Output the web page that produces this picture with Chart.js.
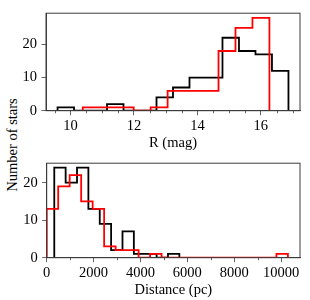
<!DOCTYPE html>
<html>
<head>
<meta charset="utf-8">
<script src="https://cdn.jsdelivr.net/npm/chart.js@4/dist/chart.umd.min.js"></script>
<style>
    body { margin: 0; background: #fff; }
    #wrap { position: relative; width: 310px; height: 300px; }
    canvas { position: absolute; left: 0; }
    #topChart { top: 0; z-index: 2; }
    #bottomChart { top: 150px; z-index: 1; }
    #yTitle {
        position: absolute;
        left: 12px;
        top: 145px;
        transform: translate(-50%, -50%) rotate(-90deg);
        font: 14.5px "Liberation Serif", serif;
        white-space: nowrap;
        color: #000;
    }
</style>
</head>
<body>
<div id="wrap">
    <canvas id="topChart" width="310" height="160"></canvas>
    <canvas id="bottomChart" width="310" height="150"></canvas>
    <div id="yTitle">Number of stars</div>
</div>
<script>
// R magnitude histograms (bin edges and counts)
const magEdgesBlack = [9.59, 10.11, 10.63, 11.15, 11.67, 12.19, 12.71, 13.23, 13.75, 14.27, 14.79, 15.31, 15.83, 16.35, 16.87];
const magCountsBlack = [1, 0, 0, 2, 0, 0, 4, 7, 10, 10, 22, 18, 17, 12];
const magEdgesRed = [10.385, 10.92, 11.455, 11.99, 12.525, 13.06, 13.595, 14.13, 14.665, 15.2, 15.735, 16.27];
const magCountsRed = [1, 1, 1, 0, 1, 6, 6, 6, 18, 25, 28];

// distance histograms
const distEdgesBlack = [323, 808, 1293, 1778, 2263, 2748, 3233, 3718, 4203, 4688, 5173, 5658];
const distCountsBlack = [24, 20, 24, 13, 9, 2, 7, 1, 1, 0, 1];
const distEdgesRed = [0, 490, 980, 1470, 1960, 2450, 2940, 3430, 3920, 4410, 4900, 5390, 5880, 6370, 6860, 7350, 7840, 8330, 8820, 9310, 9800, 10290];
const distCountsRed = [13, 19, 22, 15, 13, 3, 2, 2, 0, 1, 0, 0, 0, 0, 0, 0, 0, 0, 0, 0, 1];

const magTicks = [10, 12, 14, 16];
const magMinor = [9.5, 10.5, 11, 11.5, 12.5, 13, 13.5, 14.5, 15, 15.5, 16.5, 17];
const distTicks = [0, 2000, 4000, 6000, 8000, 10000];
const distMinor = [1000, 3000, 5000, 7000, 9000];
const countTicks = [0, 10, 20];

const FONT = { family: "'Liberation Serif', serif", size: 14.5 };
const AXIS_COLOR = "#3c3c3c";

function stepPoints(edges, counts) {
    const pts = [{ x: edges[0], y: 0 }];
    counts.forEach((c, i) => pts.push({ x: edges[i], y: c }));
    pts.push({ x: edges[edges.length - 1], y: counts[counts.length - 1] });
    pts.push({ x: edges[edges.length - 1], y: 0 });
    return pts;
}

function histDataset(edges, counts, color) {
    return {
        data: stepPoints(edges, counts),
        stepped: "before",
        borderColor: color,
        borderWidth: 1.8,
        pointRadius: 0,
        fill: false,
    };
}

const framePlugin = {
    id: "frame",
    afterDraw(chart, args, opts) {
        const { ctx, chartArea: a, scales } = chart;
        ctx.save();
        ctx.strokeStyle = AXIS_COLOR;
        ctx.lineWidth = 1;
        ctx.strokeRect(a.left, a.top, a.right - a.left, a.bottom - a.top);
        ctx.beginPath();
        (opts.minor || []).forEach((v) => {
            const x = Math.round(scales.x.getPixelForValue(v)) + 0.5;
            ctx.moveTo(x, a.bottom);
            ctx.lineTo(x, a.bottom + 2.5);
        });
        ctx.lineWidth = 0.8;
        ctx.stroke();
        ctx.restore();
    },
};

function makeChart(id, datasets, x, yMax, box) {
    const fixedTicks = (values) => (scale) => {
        scale.ticks = values.map((v) => ({ value: v }));
    };
    return new Chart(document.getElementById(id), {
        type: "line",
        data: { datasets },
        plugins: [framePlugin],
        options: {
            responsive: false,
            animation: false,
            devicePixelRatio: 1,
            layout: { padding: { left: 0, right: 10, top: box.top, bottom: 0 } },
            plugins: {
                legend: { display: false },
                tooltip: { enabled: false },
                frame: { minor: x.minor },
            },
            scales: {
                x: {
                    type: "linear",
                    min: x.min,
                    max: x.max,
                    afterBuildTicks: fixedTicks(x.ticks),
                    afterFit: (s) => { s.height = box.xHeight; },
                    grid: { drawOnChartArea: false, tickLength: 4.5, color: AXIS_COLOR, tickWidth: 0.8 },
                    border: { color: AXIS_COLOR },
                    ticks: { font: FONT, color: "#000", padding: 2.5, maxRotation: 0, callback: (v) => String(v) },
                    title: { display: true, text: x.title, font: FONT, color: "#000", padding: { top: 0, bottom: box.titlePad } },
                },
                y: {
                    type: "linear",
                    min: 0,
                    max: yMax,
                    afterBuildTicks: fixedTicks(countTicks),
                    afterFit: (s) => { s.width = box.yWidth; },
                    grid: { drawOnChartArea: false, tickLength: 4.5, color: AXIS_COLOR, tickWidth: 0.8 },
                    border: { color: AXIS_COLOR },
                    ticks: { font: FONT, color: "#000", padding: 4.5, callback: (v) => String(v) },
                },
            },
        },
    });
}

makeChart(
    "topChart",
    [histDataset(magEdgesRed, magCountsRed, "#ff0000"), histDataset(magEdgesBlack, magCountsBlack, "#000000")],
    { min: 9.226, max: 17.234, ticks: magTicks, minor: magMinor, title: "R (mag)" },
    29.4,
    { top: 5, xHeight: 49.3, yWidth: 46, titlePad: 7.8 }
);

makeChart(
    "bottomChart",
    [histDataset(distEdgesRed, distCountsRed, "#ff0000"), histDataset(distEdgesBlack, distCountsBlack, "#000000")],
    { min: 0, max: 10805, ticks: distTicks, minor: distMinor, title: "Distance (pc)" },
    25.2,
    { top: 2.7, xHeight: 42.3, yWidth: 46.7, titlePad: 1.1 }
);
</script>
</body>
</html>
